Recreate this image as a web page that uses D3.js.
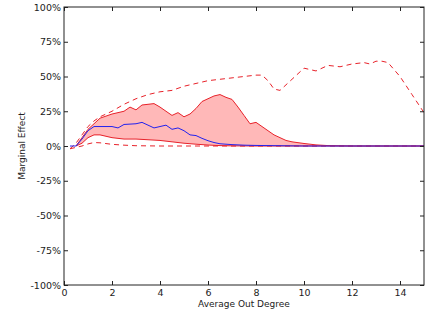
<!DOCTYPE html>
<html>
<head>
<meta charset="utf-8">
<script src="https://cdn.jsdelivr.net/npm/d3@7"></script>
<style>
  body { margin: 0; background: #fff; }
  text { font-family: "DejaVu Sans", sans-serif; }
</style>
</head>
<body>
<div id="chart"></div>
<script>
// x = average out degree, values in percent
const upperDashX = [0.25, 0.5, 0.75, 1.0, 1.25, 1.5, 2.0, 2.5, 3.0, 3.5, 4.0, 4.5, 5.0, 5.5, 6.0, 6.5, 7.0, 7.5, 8.0, 8.25, 8.5, 8.75, 9.0, 9.5, 10.0, 10.5, 11.0, 11.5, 12.0, 12.5, 12.75, 13.0, 13.25, 13.5, 14.0, 14.5, 15.0];
const upperDashY = [-2, 2, 8, 14, 18, 21, 25, 30, 34, 37, 39, 40, 43, 45, 47, 48, 49, 50, 51, 51, 47, 41, 40, 48, 56, 54, 58, 57, 59, 60, 59, 61, 61, 60, 50, 37, 24];

const upperX = [0.5, 0.75, 1.0, 1.25, 1.5, 2.0, 2.5, 2.75, 3.0, 3.25, 3.5, 3.75, 4.0, 4.25, 4.5, 4.75, 5.0, 5.25, 5.5, 5.75, 6.0, 6.25, 6.5, 6.75, 7.0, 7.25, 7.5, 7.75, 8.0, 8.25, 8.5, 8.75, 9.0, 9.25, 9.5, 10.0, 10.5, 11.0, 12.0, 15.0];
const upperY = [0, 6, 12, 16, 20, 23, 25, 28, 26, 29.5, 30, 30.5, 28, 25, 22, 24, 21, 23, 27, 32, 34, 36, 37, 35, 33.5, 28, 22, 16, 17, 14, 11, 8, 6, 4, 3, 1.8, 0.8, 0.3, 0, 0];

const lowerX = [0.5, 0.75, 1.0, 1.25, 1.5, 2.0, 2.5, 3.0, 3.5, 4.0, 4.5, 5.0, 5.5, 6.0, 6.5, 7.0, 8.0, 12.0, 15.0];
const lowerY = [0, 2, 6, 8, 8, 6, 5, 5, 4.5, 4, 3, 2, 1.3, 0.7, 0.3, 0.1, 0, 0, 0];

const lowerDashX = [0.25, 0.5, 0.75, 1.0, 1.25, 1.5, 2.0, 2.5, 3.0, 4.0, 8.0, 15.0];
const lowerDashY = [-2, -1, 0, 1.5, 2.5, 2.3, 1.2, 0.6, 0.2, 0, 0, 0];

const meanX = [0.25, 0.5, 0.75, 1.0, 1.25, 1.5, 2.0, 2.25, 2.5, 3.0, 3.25, 3.5, 3.75, 4.0, 4.25, 4.5, 4.75, 5.0, 5.25, 5.5, 5.75, 6.0, 6.25, 6.5, 7.0, 7.5, 8.0, 9.0, 10.0, 15.0];
const meanY = [0, 0, 5, 11, 14, 14, 14, 13, 15.5, 16, 17, 15, 13, 14, 15, 12, 13, 11, 8, 7.5, 5.5, 3.8, 2.5, 1.6, 1, 0.6, 0.4, 0.2, 0, 0];

const xTicks = [0, 2, 4, 6, 8, 10, 12, 14];
const yTicks = [-100, -75, -50, -25, 0, 25, 50, 75, 100];

const zip = (xs, ys) => xs.map((x, i) => ({ x: x, y: ys[i] }));

function draw () {
  const svgWidth = 438;
  const svgHeight = 316;
  const margin = { top: 7, right: 14, bottom: 31, left: 64 };
  const width = svgWidth - margin.left - margin.right;
  const height = svgHeight - margin.top - margin.bottom;

  const svg = d3.select('#chart')
    .append('svg')
    .attr('width', svgWidth)
    .attr('height', svgHeight);
  const g = svg.append('g')
    .attr('transform', `translate(${margin.left}, ${margin.top})`);

  const x = d3.scaleLinear().domain([0, 15]).range([0, width]);
  const y = d3.scaleLinear().domain([-100, 100]).range([height, 0]);

  g.append('clipPath').attr('id', 'clip')
    .append('rect').attr('width', width).attr('height', height);

  const plot = g.append('g').attr('clip-path', 'url(#clip)');

  // shaded band between lower and upper solid lines
  const upper = zip(upperX, upperY);
  const lower = zip(lowerX, lowerY);
  const bandX = Array.from(new Set(upperX.concat(lowerX))).sort((a, b) => a - b);
  const interp = (pts, v) => {
    for (let i = 0; i < pts.length - 1; i++) {
      if (v >= pts[i].x && v <= pts[i + 1].x) {
        const t = (v - pts[i].x) / (pts[i + 1].x - pts[i].x);
        return pts[i].y + t * (pts[i + 1].y - pts[i].y);
      }
    }
    return 0;
  };
  const band = bandX.map(v => ({ x: v, y0: interp(lower, v), y1: interp(upper, v) }));

  plot.append('path')
    .datum(band)
    .attr('fill', '#ffb8b8')
    .attr('d', d3.area().x(d => x(d.x)).y0(d => y(d.y0)).y1(d => y(d.y1)));

  const line = d3.line().x(d => x(d.x)).y(d => y(d.y));

  plot.append('path').datum(upper)
    .attr('fill', 'none').attr('stroke', '#e8222a').attr('stroke-width', 1)
    .attr('d', line);
  plot.append('path').datum(lower)
    .attr('fill', 'none').attr('stroke', '#e8222a').attr('stroke-width', 1)
    .attr('d', line);
  plot.append('path').datum(zip(upperDashX, upperDashY))
    .attr('fill', 'none').attr('stroke', '#e8222a').attr('stroke-width', 1)
    .attr('stroke-dasharray', '5,4')
    .attr('d', line);
  plot.append('path').datum(zip(lowerDashX, lowerDashY))
    .attr('fill', 'none').attr('stroke', '#e8222a').attr('stroke-width', 1)
    .attr('stroke-dasharray', '5,4')
    .attr('d', line);
  plot.append('path').datum(zip(meanX, meanY))
    .attr('fill', 'none').attr('stroke', '#2222ee').attr('stroke-width', 1)
    .attr('d', line);

  // axes, ticks pointing inward
  const fontSize = '9.5px';
  const bottom = g.append('g')
    .attr('transform', `translate(0, ${height})`)
    .call(d3.axisBottom(x).tickValues(xTicks).tickSizeInner(-4).tickSizeOuter(0).tickPadding(4));
  const left = g.append('g')
    .call(d3.axisLeft(y).tickValues(yTicks).tickSizeInner(-4).tickSizeOuter(0).tickPadding(3).tickFormat(d => d + '%'));
  const top = g.append('g')
    .call(d3.axisTop(x).tickValues(xTicks).tickSizeInner(-4).tickSizeOuter(0).tickFormat(''));
  const right = g.append('g')
    .attr('transform', `translate(${width}, 0)`)
    .call(d3.axisRight(y).tickValues(yTicks).tickSizeInner(-4).tickSizeOuter(0).tickFormat(''));

  [bottom, left, top, right].forEach(a => {
    a.select('.domain').remove();
    a.selectAll('line').attr('stroke', '#222');
    a.selectAll('text').attr('fill', '#222').style('font-size', fontSize)
      .style('font-family', '"DejaVu Sans", sans-serif');
  });

  g.append('rect')
    .attr('width', width).attr('height', height)
    .attr('fill', 'none').attr('stroke', '#222').attr('stroke-width', 1);

  svg.append('text')
    .attr('x', margin.left + width / 2)
    .attr('y', 307)
    .attr('text-anchor', 'middle')
    .attr('fill', '#222')
    .style('font-size', '9px')
    .text('Average Out Degree');

  svg.append('text')
    .attr('transform', `translate(25, ${margin.top + height / 2}) rotate(-90)`)
    .attr('text-anchor', 'middle')
    .attr('fill', '#222')
    .style('font-size', '9px')
    .text('Marginal Effect');
}
draw();
</script>
</body>
</html>
